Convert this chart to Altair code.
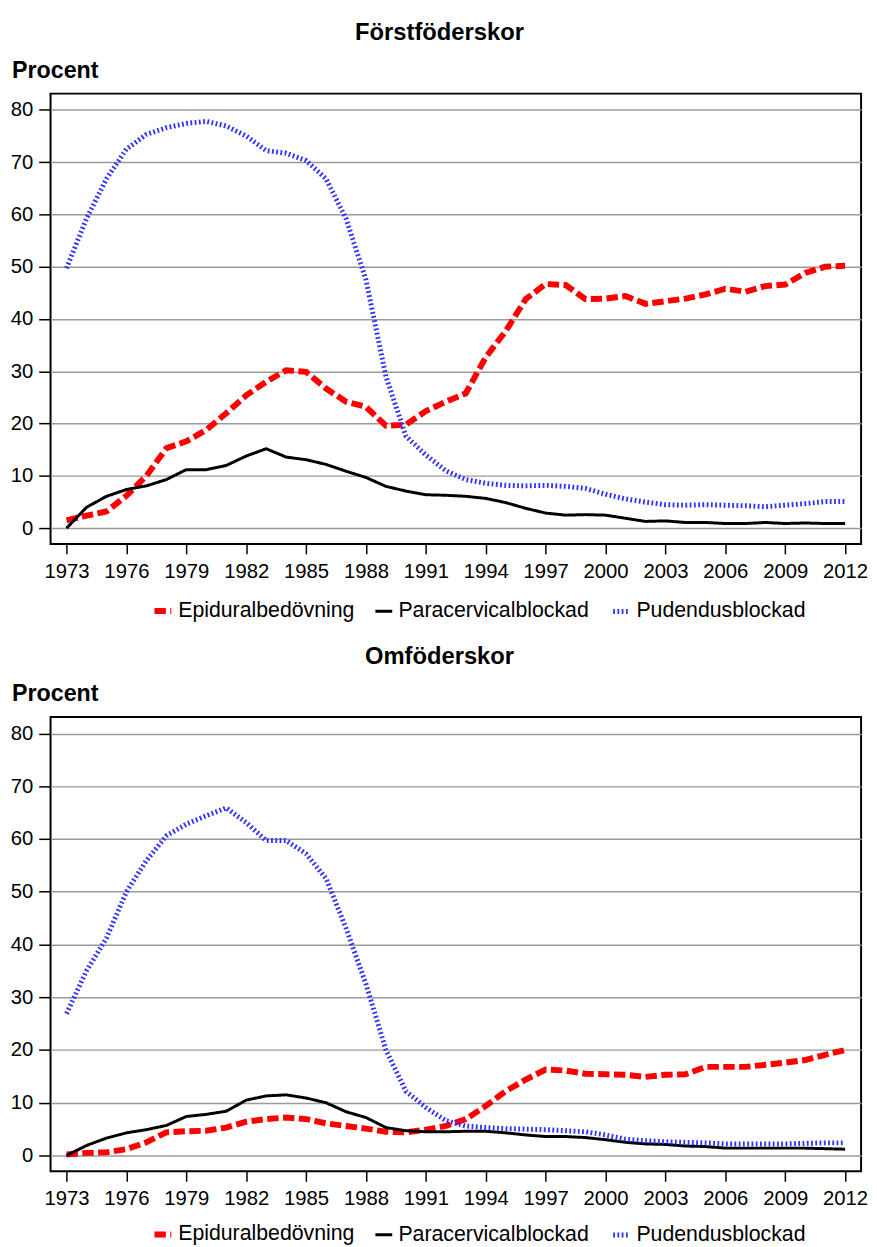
import altair as alt
import pandas as pd

years = list(range(1973, 2013))
tick_years = list(range(1973, 2013, 3))
y_ticks = list(range(0, 81, 10))
methods = ["Epiduralbedövning", "Paracervicalblockad", "Pudendusblockad"]
colors = ["#ff0000", "#000000", "#3030ff"]
titles = ["Förstföderskor", "Omföderskor"]
y_label = "Procent"

# Förstföderskor
first_epi = [1.5, 2.4, 3.2, 6.2, 10.0, 15.3, 16.6, 18.8, 22.0, 25.4,
             28.0, 30.2, 29.9, 26.7, 24.2, 23.2, 19.6, 19.8, 22.4, 24.2,
             25.8, 32.7, 37.7, 43.8, 46.7, 46.5, 43.8, 43.9, 44.4, 42.9,
             43.4, 43.9, 44.7, 45.8, 45.2, 46.3, 46.6, 48.8, 50.0, 50.2]
first_para = [0.0, 4.0, 6.1, 7.4, 8.1, 9.3, 11.2, 11.2, 12.0, 13.8,
              15.2, 13.6, 13.1, 12.2, 10.9, 9.7, 8.0, 7.1, 6.4, 6.3,
              6.1, 5.7, 4.9, 3.8, 2.9, 2.5, 2.6, 2.5, 1.9, 1.3,
              1.4, 1.1, 1.1, 0.9, 0.9, 1.1, 0.9, 1.0, 0.9, 0.9]
first_pud = [49.7, 59.2, 66.8, 72.5, 75.3, 76.6, 77.4, 77.8, 76.9, 75.0,
             72.2, 71.7, 70.3, 66.8, 59.2, 47.5, 29.0, 17.6, 14.0, 11.0,
             9.3, 8.6, 8.2, 8.1, 8.2, 8.0, 7.6, 6.5, 5.6, 5.0,
             4.5, 4.4, 4.5, 4.4, 4.3, 4.1, 4.4, 4.7, 5.1, 5.1]

# Omföderskor
second_epi = [0.2, 0.5, 0.6, 1.2, 2.5, 4.4, 4.6, 4.7, 5.3, 6.4,
              6.9, 7.2, 6.9, 6.1, 5.6, 5.1, 4.5, 4.4, 4.9, 5.6,
              6.9, 9.4, 12.2, 14.4, 16.3, 16.1, 15.5, 15.4, 15.3, 14.9,
              15.3, 15.4, 16.8, 16.8, 16.8, 17.2, 17.6, 18.1, 19.1, 20.0]
second_para = [0.0, 1.9, 3.3, 4.3, 4.9, 5.7, 7.4, 7.8, 8.4, 10.5,
               11.3, 11.5, 10.9, 10.0, 8.3, 7.2, 5.3, 4.7, 4.5, 4.5,
               4.6, 4.6, 4.3, 3.9, 3.6, 3.6, 3.4, 3.0, 2.5, 2.2,
               2.1, 1.8, 1.7, 1.4, 1.4, 1.4, 1.4, 1.4, 1.3, 1.2]
second_pud = [26.9, 35.0, 41.2, 50.0, 55.9, 60.6, 62.8, 64.4, 65.9, 63.1,
              59.7, 59.7, 57.2, 52.5, 43.1, 32.5, 20.0, 12.2, 9.1, 6.6,
              5.6, 5.3, 5.1, 5.0, 4.9, 4.7, 4.5, 3.9, 3.1, 2.8,
              2.6, 2.5, 2.4, 2.2, 2.2, 2.2, 2.2, 2.3, 2.4, 2.4]

FONT = "Liberation Sans"


def make_df(series):
    rows = []
    for name, vals in zip(methods, series):
        for y, v in zip(years, vals):
            rows.append({"År": y, "Procent": v, "Metod": name})
    return pd.DataFrame(rows)


def panel(df, title, height):
    lines = alt.Chart(df).mark_line(strokeCap="butt").encode(
        x=alt.X("År:Q",
                scale=alt.Scale(domain=[1972.2, 2012.8], nice=False, zero=False),
                axis=alt.Axis(values=tick_years, format="d", title=None, grid=False,
                              tickSize=10, labelPadding=8)),
        y=alt.Y("Procent:Q",
                scale=alt.Scale(domain=[-3, 83.1], nice=False, zero=False),
                axis=alt.Axis(values=y_ticks, title=None,
                              grid=True, gridColor="#9a9a9a", gridWidth=1.5,
                              tickSize=12, labelPadding=6)),
        color=alt.Color("Metod:N", sort=methods,
                        scale=alt.Scale(domain=methods, range=colors),
                        legend=alt.Legend(title=None)),
        strokeDash=alt.StrokeDash("Metod:N", sort=methods,
                                  scale=alt.Scale(domain=methods,
                                                  range=[[11.5, 4.5], [1, 0], [1.8, 2.5]]),
                                  legend=alt.Legend(title=None)),
        strokeWidth=alt.StrokeWidth("Metod:N", sort=methods,
                                    scale=alt.Scale(type="ordinal", domain=methods,
                                                    range=[6, 3, 5]),
                                    legend=alt.Legend(title=None)),
    )
    title_mark = alt.Chart(pd.DataFrame({"t": [title]})).mark_text(
        font=FONT, fontSize=24, fontWeight="bold", color="#000",
        align="center", baseline="alphabetic"
    ).encode(text="t:N", x=alt.value(393), y=alt.value(-54))
    ylab_mark = alt.Chart(pd.DataFrame({"t": [y_label]})).mark_text(
        font=FONT, fontSize=23.5, fontWeight="bold", color="#000",
        align="left", baseline="alphabetic"
    ).encode(text="t:N", x=alt.value(-39), y=alt.value(-16))
    return alt.layer(lines, title_mark, ylab_mark).properties(width=819, height=height)


top = panel(make_df([first_epi, first_para, first_pud]), titles[0], 455)
bottom = panel(make_df([second_epi, second_para, second_pud]), titles[1], 459)

chart = alt.vconcat(top, bottom, spacing=175, bounds="flush").resolve_legend(
    color="independent", strokeDash="independent", strokeWidth="independent"
).resolve_scale(
    color="independent", strokeDash="independent", strokeWidth="independent"
).properties(
    padding={"left": 1, "top": 6, "right": 0, "bottom": 0}
).configure_view(
    stroke="#000", strokeWidth=2
).configure_axis(
    domain=False, labelFont=FONT, labelFontSize=20.5, labelColor="#000",
    tickColor="#000", tickWidth=1.5
).configure_legend(
    orient="none", legendX=102, legendY=511, direction="horizontal", padding=0,
    symbolType="stroke", symbolSize=289, labelFont=FONT, labelFontSize=21.5,
    labelColor="#000", columnPadding=14, labelOffset=4, labelLimit=0
)

chart.save("out.html", embed_options={"renderer": "svg", "actions": False})
